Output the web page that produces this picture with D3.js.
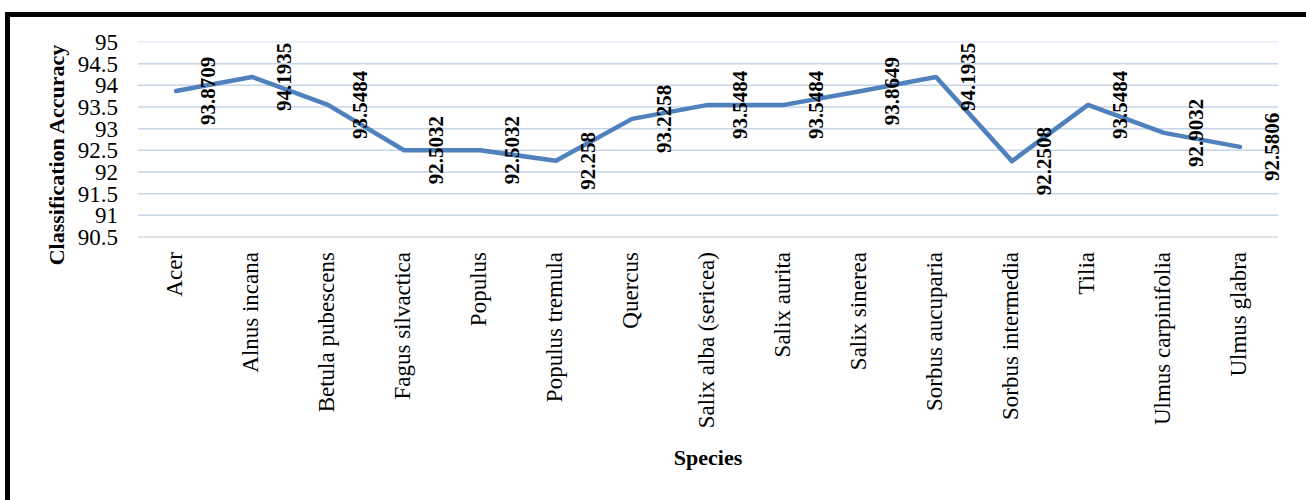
<!DOCTYPE html>
<html>
<head>
<meta charset="utf-8">
<script src="https://cdn.jsdelivr.net/npm/d3@7"></script>
<style>
  body { margin: 0; background: #fff; }
  text { font-family: "Times New Roman", "Liberation Serif", serif; }
</style>
</head>
<body>
<div id="chart"></div>
<script>
// chart data
const species = ["Acer", "Alnus incana", "Betula pubescens", "Fagus silvactica", "Populus",
    "Populus tremula", "Quercus", "Salix alba (sericea)", "Salix aurita", "Salix sinerea",
    "Sorbus aucuparia", "Sorbus intermedia", "Tilia", "Ulmus carpinifolia", "Ulmus glabra"];
const accuracy = [93.8709, 94.1935, 93.5484, 92.5032, 92.5032, 92.258, 93.2258, 93.5484,
    93.5484, 93.8649, 94.1935, 92.2508, 93.5484, 92.9032, 92.5806];
const labels = ["93.8709", "94.1935", "93.5484", "92.5032", "92.5032", "92.258", "93.2258",
    "93.5484", "93.5484", "93.8649", "94.1935", "92.2508", "93.5484", "92.9032", "92.5806"];
const yTicks = [90.5, 91, 91.5, 92, 92.5, 93, 93.5, 94, 94.5, 95];

const W = 1306, H = 500;
const plot = { left: 138, right: 1278, top: 42, bottom: 237 };

const svg = d3.select("#chart")
    .append("svg")
    .attr("width", W)
    .attr("height", H);

// outer frame
svg.append("rect")
    .attr("x", 7.5)
    .attr("y", 14.5)
    .attr("width", 1310)
    .attr("height", 520)
    .attr("fill", "none")
    .attr("stroke", "#000")
    .attr("stroke-width", 5);

const x = d3.scaleBand()
    .domain(species)
    .range([plot.left, plot.right]);

const y = d3.scaleLinear()
    .domain([90.5, 95])
    .range([plot.bottom, plot.top]);

// gridlines
svg.append("g")
    .selectAll("line")
    .data(yTicks.filter(d => d > 90.5))
    .enter()
    .append("line")
    .attr("x1", plot.left)
    .attr("x2", plot.right)
    .attr("y1", d => y(d))
    .attr("y2", d => y(d))
    .attr("stroke", d => d === 95 ? "#e6edf7" : "#c6d5ea")
    .attr("stroke-width", 1.5);

// category axis line
svg.append("line")
    .attr("x1", plot.left)
    .attr("x2", plot.right)
    .attr("y1", y(90.5))
    .attr("y2", y(90.5))
    .attr("stroke", "#d9d9d9")
    .attr("stroke-width", 1.5);

// Y tick labels
svg.append("g")
    .selectAll("text")
    .data(yTicks)
    .enter()
    .append("text")
    .attr("x", 118)
    .attr("y", d => y(d))
    .attr("dy", "0.35em")
    .attr("text-anchor", "end")
    .style("font-size", "23px")
    .text(d => d);

// X category labels
svg.append("g")
    .selectAll("text")
    .data(species)
    .enter()
    .append("text")
    .attr("transform", d => "translate(" + (x(d) + x.bandwidth() / 2 - 2) + ",252) rotate(-90)")
    .attr("dy", "0.35em")
    .attr("text-anchor", "end")
    .style("font-size", "23px")
    .text(d => d);

// line
const line = d3.line()
    .x((d, i) => x(species[i]) + x.bandwidth() / 2)
    .y(d => y(d));

svg.append("path")
    .datum(accuracy)
    .attr("d", line)
    .attr("fill", "none")
    .attr("stroke", "#4f81bd")
    .attr("stroke-width", 4.5)
    .attr("stroke-linejoin", "round")
    .attr("stroke-linecap", "round");

// data labels
svg.append("g")
    .selectAll("text")
    .data(accuracy)
    .enter()
    .append("text")
    .attr("transform", (d, i) => "translate(" + (x(species[i]) + x.bandwidth() / 2 + 32) + "," + y(d) + ") rotate(-90)")
    .attr("dy", "0.35em")
    .attr("text-anchor", "middle")
    .style("font-size", "21px")
    .style("font-weight", "bold")
    .text((d, i) => labels[i]);

// axis titles
svg.append("text")
    .attr("transform", "translate(56,155) rotate(-90)")
    .attr("dy", "0.35em")
    .attr("text-anchor", "middle")
    .style("font-size", "22px")
    .style("font-weight", "bold")
    .text("Classification Accuracy");

svg.append("text")
    .attr("x", 708)
    .attr("y", 465)
    .attr("text-anchor", "middle")
    .style("font-size", "22px")
    .style("font-weight", "bold")
    .text("Species");
</script>
</body>
</html>
